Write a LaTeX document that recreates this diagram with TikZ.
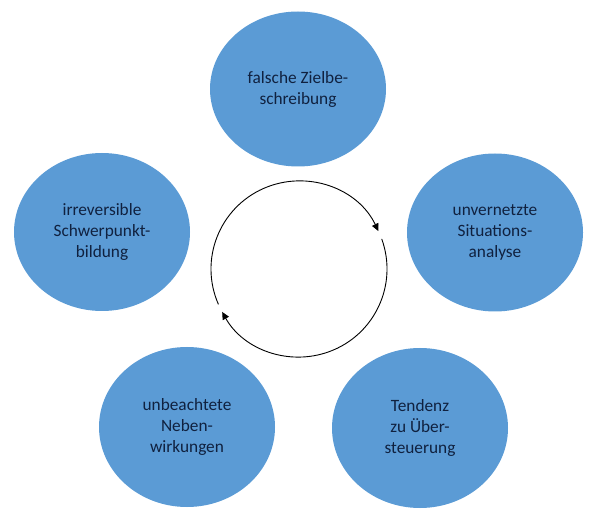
\documentclass[tikz,border=0pt]{standalone}
\usepackage{fontspec}
\setmainfont{Carlito}
\usetikzlibrary{shapes.geometric,arrows.meta}
\definecolor{bubble}{RGB}{91,155,213}
\definecolor{bubtext}{RGB}{16,33,63}
\tikzset{
  bubble/.style={ellipse, fill=bubble, minimum width=176pt, minimum height=158pt,
    inner sep=0pt, align=center, text=bubtext,
    font=\fontsize{17.3}{21}\selectfont},
  cyc/.style={draw=black, line width=0.9pt, -{Triangle[length=7.5pt,width=7pt]}}
}
\begin{document}
\begin{tikzpicture}[x=1pt,y=1pt]
\useasboundingbox (0,0) rectangle (597,517);
\node[bubble, minimum height=155pt] (ziel) at (298,428) {falsche Zielbe-\\schreibung};
\node[bubble] (sit) at (495,284.5) {unvernetzte\\Situations-\\analyse};
\node[bubble, minimum height=160pt] (tend) at (420,89) {Tendenz\\zu Über-\\steuerung};
\node[bubble, minimum height=160pt] (neben) at (187,90) {unbeachtete\\Neben-\\wirkungen};
\node[bubble] (schwer) at (102,285) {irreversible\\Schwerpunkt-\\bildung};
\coordinate (c) at (299,248);
\draw[cyc] ([shift={(203.7:88pt)}]c) arc[start angle=203.7, end angle=25.5, radius=88pt];
\draw[cyc] ([shift={(20:88pt)}]c) arc[start angle=20, end angle=-150.8, radius=88pt];
\end{tikzpicture}
\end{document}
